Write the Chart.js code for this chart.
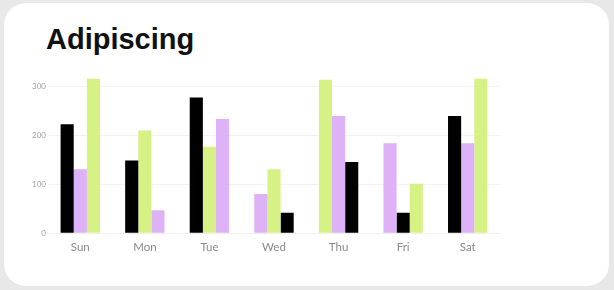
<!DOCTYPE html>
<html>
<head>
<meta charset="utf-8">
<script src="https://cdn.jsdelivr.net/npm/chart.js@4"></script>
<style>
  body { margin: 0; background: #e8e8e8; width: 614px; height: 290px; overflow: hidden; position: relative; }
  .card { position: absolute; left: 4px; top: 3px; width: 605px; height: 283px; background: #fff; border-radius: 22px; }
  .title { position: absolute; left: 46px; top: 25px; font: bold 29px "Liberation Sans", Arial, sans-serif; line-height: 29px; color: #111; }
  #chart { position: absolute; left: 0; top: 0; }
</style>
</head>
<body>
<div class="card"></div>
<div class="title">Adipiscing</div>
<canvas id="chart" width="614" height="290"></canvas>
<script>
const days = ['Sun', 'Mon', 'Tue', 'Wed', 'Thu', 'Fri', 'Sat'];
const blackValues = [223, 149, 278, 42, 146, 42, 240];
const purpleValues = [131, 47, 234, 80, 240, 184, 184];
const greenValues = [316, 210, 177, 131, 314, 101, 316];
// which series sits in each of the three slots, per day
const slotOrder = [
  ['black', 'purple', 'green'],
  ['black', 'green', 'purple'],
  ['black', 'green', 'purple'],
  ['purple', 'green', 'black'],
  ['green', 'purple', 'black'],
  ['purple', 'black', 'green'],
  ['black', 'purple', 'green']
];
const yTicks = [0, 100, 200, 300];

const series = {
  black: { values: blackValues, color: '#000000' },
  purple: { values: purpleValues, color: '#ddb2f6' },
  green: { values: greenValues, color: '#d7f284' }
};

const datasets = [0, 1, 2].map(slot => ({
  label: 'slot ' + slot,
  data: days.map((d, i) => series[slotOrder[i][slot]].values[i]),
  backgroundColor: days.map((d, i) => series[slotOrder[i][slot]].color),
  barPercentage: 1,
  categoryPercentage: 0.61
}));

new Chart(document.getElementById('chart').getContext('2d'), {
  type: 'bar',
  data: { labels: days, datasets },
  options: {
    responsive: false,
    animation: false,
    layout: { padding: { left: 18, right: 114, top: 72, bottom: 29 } },
    plugins: { legend: { display: false }, tooltip: { enabled: false } },
    scales: {
      x: {
        grid: { display: false, drawTicks: false },
        border: { display: false },
        ticks: { padding: 7, color: '#8a8a8a', font: { family: 'Lato', size: 11.5 } }
      },
      y: {
        min: 0,
        max: 330,
        afterBuildTicks: axis => { axis.ticks = yTicks.map(v => ({ value: v })); },
        afterFit: axis => { axis.width = 30; },
        grid: { color: ctx => ctx.tick && ctx.tick.value === 0 ? '#efefef' : '#f8f0f0', drawTicks: false },
        border: { display: false },
        ticks: { padding: 2, color: '#a0a0a0', font: { family: 'Lato', size: 8 } }
      }
    }
  }
});
</script>
</body>
</html>
